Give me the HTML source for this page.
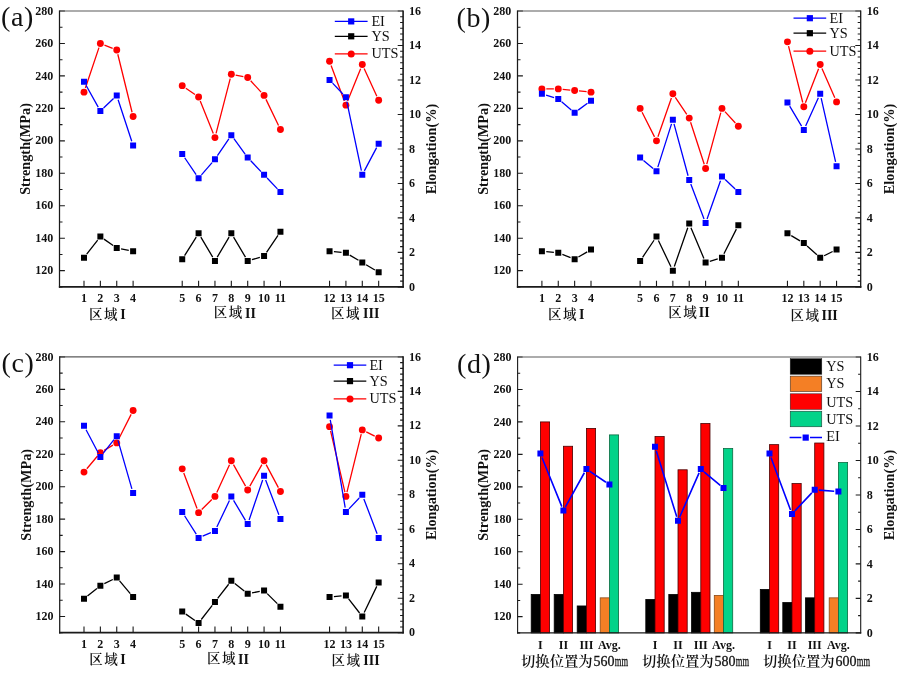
<!DOCTYPE html>
<html lang="zh"><head><meta charset="utf-8"><title>Strength and elongation</title>
<style>
html,body{margin:0;padding:0;background:#fff}
body{width:900px;height:673px;overflow:hidden}
svg{display:block}
text{font-family:"Liberation Serif","Noto Serif CJK SC",serif;fill:#111}
.tk{font-size:12px;font-weight:bold}
.ttl{font-size:14.3px;font-weight:bold}
.lg{font-size:14.3px}
.tag{font-size:28px;letter-spacing:0.6px}
.cj{font-size:13.5px;letter-spacing:1.5px;font-weight:600}
.rom{font-weight:bold;font-size:14px}
.cjb{font-size:13.4px;font-weight:600}
.num{font-size:14.6px;stroke:#111;stroke-width:0.3px}
</style></head><body>
<svg width="900" height="673" viewBox="0 0 900 673">
<rect width="900" height="673" fill="#fff"/>
<g>
<path d="M59.5 286.9h3.0M59.5 270.67h5.4M59.5 254.44h3.0M59.5 238.21h5.4M59.5 221.98h3.0M59.5 205.75h5.4M59.5 189.52h3.0M59.5 173.29h5.4M59.5 157.06h3.0M59.5 140.84h5.4M59.5 124.61h3.0M59.5 108.38h5.4M59.5 92.15h3.0M59.5 75.92h5.4M59.5 59.69h3.0M59.5 43.46h5.4M59.5 27.23h3.0M59.5 11h5.4M403.1 11h-5.4M403.1 16.75h-3.0M403.1 22.5h-3.0M403.1 28.24h-3.0M403.1 33.99h-3.0M403.1 39.74h-3.0M403.1 45.49h-5.4M403.1 51.24h-3.0M403.1 56.98h-3.0M403.1 62.73h-3.0M403.1 68.48h-3.0M403.1 74.23h-3.0M403.1 79.97h-5.4M403.1 85.72h-3.0M403.1 91.47h-3.0M403.1 97.22h-3.0M403.1 102.97h-3.0M403.1 108.71h-3.0M403.1 114.46h-5.4M403.1 120.21h-3.0M403.1 125.96h-3.0M403.1 131.71h-3.0M403.1 137.45h-3.0M403.1 143.2h-3.0M403.1 148.95h-5.4M403.1 154.7h-3.0M403.1 160.45h-3.0M403.1 166.19h-3.0M403.1 171.94h-3.0M403.1 177.69h-3.0M403.1 183.44h-5.4M403.1 189.19h-3.0M403.1 194.93h-3.0M403.1 200.68h-3.0M403.1 206.43h-3.0M403.1 212.18h-3.0M403.1 217.92h-5.4M403.1 223.67h-3.0M403.1 229.42h-3.0M403.1 235.17h-3.0M403.1 240.92h-3.0M403.1 246.66h-3.0M403.1 252.41h-5.4M403.1 258.16h-3.0M403.1 263.91h-3.0M403.1 269.66h-3.0M403.1 275.4h-3.0M403.1 281.15h-3.0M403.1 286.9h-5.4" stroke="#1a1a1a" stroke-width="1.1" fill="none"/>
<path d="M59.5 11H403.1" stroke="#5a5a5a" stroke-width="1.2" fill="none"/>
<path d="M59.5 10.4V287.75" stroke="#1a1a1a" stroke-width="1.25" fill="none"/>
<path d="M403.1 10.4V287.75" stroke="#1a1a1a" stroke-width="1.6" fill="none"/>
<path d="M58.88 286.9H403.9" stroke="#1a1a1a" stroke-width="1.7" fill="none"/>
<text x="53.3" y="274.27" text-anchor="end" class="tk">120</text>
<text x="53.3" y="241.81" text-anchor="end" class="tk">140</text>
<text x="53.3" y="209.35" text-anchor="end" class="tk">160</text>
<text x="53.3" y="176.89" text-anchor="end" class="tk">180</text>
<text x="53.3" y="144.44" text-anchor="end" class="tk">200</text>
<text x="53.3" y="111.98" text-anchor="end" class="tk">220</text>
<text x="53.3" y="79.52" text-anchor="end" class="tk">240</text>
<text x="53.3" y="47.06" text-anchor="end" class="tk">260</text>
<text x="53.3" y="14.6" text-anchor="end" class="tk">280</text>
<text x="409.1" y="290.5" class="tk">0</text>
<text x="409.1" y="256.01" class="tk">2</text>
<text x="409.1" y="221.52" class="tk">4</text>
<text x="409.1" y="187.04" class="tk">6</text>
<text x="409.1" y="152.55" class="tk">8</text>
<text x="409.1" y="118.06" class="tk">10</text>
<text x="409.1" y="83.57" class="tk">12</text>
<text x="409.1" y="49.09" class="tk">14</text>
<text x="409.1" y="14.6" class="tk">16</text>
<text transform="translate(30.3 148.95) rotate(-90)" text-anchor="middle" class="ttl">Strength(MPa)</text>
<text transform="translate(436.2 148.95) rotate(-90)" text-anchor="middle" class="ttl">Elongation(%)</text>
<path d="M84 286.9v-6.2M100.37 286.9v-6.2M116.74 286.9v-6.2M133.11 286.9v-6.2M182.22 286.9v-6.2M198.59 286.9v-6.2M214.96 286.9v-6.2M231.33 286.9v-6.2M247.7 286.9v-6.2M264.07 286.9v-6.2M280.44 286.9v-6.2M329.55 286.9v-6.2M345.92 286.9v-6.2M362.29 286.9v-6.2M378.66 286.9v-6.2" stroke="#1a1a1a" stroke-width="1.1" fill="none"/>
<text x="84" y="302.1" text-anchor="middle" class="tk">1</text>
<text x="100.37" y="302.1" text-anchor="middle" class="tk">2</text>
<text x="116.74" y="302.1" text-anchor="middle" class="tk">3</text>
<text x="133.11" y="302.1" text-anchor="middle" class="tk">4</text>
<text x="182.22" y="302.1" text-anchor="middle" class="tk">5</text>
<text x="198.59" y="302.1" text-anchor="middle" class="tk">6</text>
<text x="214.96" y="302.1" text-anchor="middle" class="tk">7</text>
<text x="231.33" y="302.1" text-anchor="middle" class="tk">8</text>
<text x="247.7" y="302.1" text-anchor="middle" class="tk">9</text>
<text x="264.07" y="302.1" text-anchor="middle" class="tk">10</text>
<text x="280.44" y="302.1" text-anchor="middle" class="tk">11</text>
<text x="329.55" y="302.1" text-anchor="middle" class="tk">12</text>
<text x="345.92" y="302.1" text-anchor="middle" class="tk">13</text>
<text x="362.29" y="302.1" text-anchor="middle" class="tk">14</text>
<text x="378.66" y="302.1" text-anchor="middle" class="tk">15</text>
<path d="M86.7 254.21L97.67 240.07M103.98 239.1L113.13 245.44M121.06 248.81L128.79 250.34" stroke="#000" stroke-width="1.3" fill="none"/>
<path d="M184.57 255.59L196.24 237.07M200.84 237.13L212.71 257.15M217.21 257.15L229.08 237.13M233.58 237.13L245.45 257.15M251.92 259.68L259.85 257.32M266.53 252.41L277.98 235.37" stroke="#000" stroke-width="1.3" fill="none"/>
<path d="M333.93 251.63L341.54 252.38M349.7 255.07L358.51 260.31M366.07 264.81L374.88 270.04" stroke="#000" stroke-width="1.3" fill="none"/>
<path d="M81 254.69h6v6h-6zM97.37 233.59h6v6h-6zM113.74 244.95h6v6h-6zM130.11 248.2h6v6h-6zM179.22 256.31h6v6h-6zM195.59 230.34h6v6h-6zM211.96 257.93h6v6h-6zM228.33 230.34h6v6h-6zM244.7 257.93h6v6h-6zM261.07 253.06h6v6h-6zM277.44 228.72h6v6h-6zM326.55 248.2h6v6h-6zM342.92 249.82h6v6h-6zM359.29 259.56h6v6h-6zM375.66 269.29h6v6h-6z" fill="#000"/>
<path d="M85.4 87.98L98.97 47.63M104.46 45.08L112.65 48.33M117.79 54.22L132.06 112.22" stroke="#ff0000" stroke-width="1.3" fill="none"/>
<path d="M185.83 88.16L194.98 94.51M200.24 101.1L213.31 133.51M216.06 133.33L230.23 78.55M235.65 75.15L243.38 76.68M250.67 80.78L261.1 92.15M265.98 99.36L278.53 125.51" stroke="#ff0000" stroke-width="1.3" fill="none"/>
<path d="M331.09 65.43L344.38 101.01M347.57 101.05L360.64 68.64M364.12 68.56L376.83 96.26" stroke="#ff0000" stroke-width="1.3" fill="none"/>
<circle cx="84" cy="92.15" r="3.45" fill="#ff0000"/>
<circle cx="100.37" cy="43.46" r="3.45" fill="#ff0000"/>
<circle cx="116.74" cy="49.95" r="3.45" fill="#ff0000"/>
<circle cx="133.11" cy="116.49" r="3.45" fill="#ff0000"/>
<circle cx="182.22" cy="85.66" r="3.45" fill="#ff0000"/>
<circle cx="198.59" cy="97.02" r="3.45" fill="#ff0000"/>
<circle cx="214.96" cy="137.59" r="3.45" fill="#ff0000"/>
<circle cx="231.33" cy="74.29" r="3.45" fill="#ff0000"/>
<circle cx="247.7" cy="77.54" r="3.45" fill="#ff0000"/>
<circle cx="264.07" cy="95.39" r="3.45" fill="#ff0000"/>
<circle cx="280.44" cy="129.47" r="3.45" fill="#ff0000"/>
<circle cx="329.55" cy="61.31" r="3.45" fill="#ff0000"/>
<circle cx="345.92" cy="105.13" r="3.45" fill="#ff0000"/>
<circle cx="362.29" cy="64.56" r="3.45" fill="#ff0000"/>
<circle cx="378.66" cy="100.26" r="3.45" fill="#ff0000"/>
<path d="M86.15 85.54L98.22 107.17M103.56 107.99L113.55 98.52M118.11 99.68L131.74 141.32" stroke="#0000ff" stroke-width="1.3" fill="none"/>
<path d="M184.69 157.76L196.12 174.62M201.46 174.93L212.09 162.63M217.43 155.65L228.86 138.8M233.92 138.71L245.11 154.02M250.73 160.76L261.04 171.62M267.1 178.01L277.41 188.87" stroke="#0000ff" stroke-width="1.3" fill="none"/>
<path d="M332.58 83.17L342.89 94.03M346.83 101.52L361.38 170.51M364.34 170.92L376.61 147.67" stroke="#0000ff" stroke-width="1.3" fill="none"/>
<path d="M81 78.7h6v6h-6zM97.37 108.01h6v6h-6zM113.74 92.49h6v6h-6zM130.11 142.5h6v6h-6zM179.22 151.12h6v6h-6zM195.59 175.26h6v6h-6zM211.96 156.3h6v6h-6zM228.33 132.15h6v6h-6zM244.7 154.57h6v6h-6zM261.07 171.82h6v6h-6zM277.44 189.06h6v6h-6zM326.55 76.97h6v6h-6zM342.92 94.22h6v6h-6zM359.29 171.82h6v6h-6zM375.66 140.78h6v6h-6z" fill="#0000ff"/>
<path d="M334.8 21.4H367.6" stroke="#0000ff" stroke-width="1.25"/>
<path d="M348.1 18.3h6.2v6.2h-6.2z" fill="#0000ff"/>
<text x="371.4" y="25.9" class="lg">EI</text>
<path d="M334.8 36.3H367.6" stroke="#000" stroke-width="1.25"/>
<path d="M348.1 33.2h6.2v6.2h-6.2z" fill="#000"/>
<text x="371.4" y="40.8" class="lg">YS</text>
<path d="M334.8 53.9H367.6" stroke="#ff0000" stroke-width="1.25"/>
<circle cx="351.2" cy="53.9" r="3.5" fill="#ff0000"/>
<text x="371.4" y="58.4" class="lg">UTS</text>
<text x="89" y="319" class="cj">区域</text>
<text x="125.7" y="319.2" text-anchor="end" class="rom">I</text>
<text x="213.7" y="317.4" class="cj">区域</text>
<text x="255.9" y="317.6" text-anchor="end" class="rom">II</text>
<text x="331" y="318" class="cj">区域</text>
<text x="379.4" y="318.2" text-anchor="end" class="rom">III</text>
<text x="1" y="26.2" class="tag">(a)</text>
</g>
<g>
<path d="M517.5 286.9h3.0M517.5 270.67h5.4M517.5 254.44h3.0M517.5 238.21h5.4M517.5 221.98h3.0M517.5 205.75h5.4M517.5 189.52h3.0M517.5 173.29h5.4M517.5 157.06h3.0M517.5 140.84h5.4M517.5 124.61h3.0M517.5 108.38h5.4M517.5 92.15h3.0M517.5 75.92h5.4M517.5 59.69h3.0M517.5 43.46h5.4M517.5 27.23h3.0M517.5 11h5.4M860.7 11h-5.4M860.7 16.75h-3.0M860.7 22.5h-3.0M860.7 28.24h-3.0M860.7 33.99h-3.0M860.7 39.74h-3.0M860.7 45.49h-5.4M860.7 51.24h-3.0M860.7 56.98h-3.0M860.7 62.73h-3.0M860.7 68.48h-3.0M860.7 74.23h-3.0M860.7 79.97h-5.4M860.7 85.72h-3.0M860.7 91.47h-3.0M860.7 97.22h-3.0M860.7 102.97h-3.0M860.7 108.71h-3.0M860.7 114.46h-5.4M860.7 120.21h-3.0M860.7 125.96h-3.0M860.7 131.71h-3.0M860.7 137.45h-3.0M860.7 143.2h-3.0M860.7 148.95h-5.4M860.7 154.7h-3.0M860.7 160.45h-3.0M860.7 166.19h-3.0M860.7 171.94h-3.0M860.7 177.69h-3.0M860.7 183.44h-5.4M860.7 189.19h-3.0M860.7 194.93h-3.0M860.7 200.68h-3.0M860.7 206.43h-3.0M860.7 212.18h-3.0M860.7 217.92h-5.4M860.7 223.67h-3.0M860.7 229.42h-3.0M860.7 235.17h-3.0M860.7 240.92h-3.0M860.7 246.66h-3.0M860.7 252.41h-5.4M860.7 258.16h-3.0M860.7 263.91h-3.0M860.7 269.66h-3.0M860.7 275.4h-3.0M860.7 281.15h-3.0M860.7 286.9h-5.4" stroke="#1a1a1a" stroke-width="1.1" fill="none"/>
<path d="M517.5 11H860.7" stroke="#5a5a5a" stroke-width="1.2" fill="none"/>
<path d="M517.5 10.4V287.75" stroke="#1a1a1a" stroke-width="1.25" fill="none"/>
<path d="M860.7 10.4V287.75" stroke="#1a1a1a" stroke-width="1.3" fill="none"/>
<path d="M516.88 286.9H861.35" stroke="#1a1a1a" stroke-width="1.7" fill="none"/>
<text x="511.3" y="274.27" text-anchor="end" class="tk">120</text>
<text x="511.3" y="241.81" text-anchor="end" class="tk">140</text>
<text x="511.3" y="209.35" text-anchor="end" class="tk">160</text>
<text x="511.3" y="176.89" text-anchor="end" class="tk">180</text>
<text x="511.3" y="144.44" text-anchor="end" class="tk">200</text>
<text x="511.3" y="111.98" text-anchor="end" class="tk">220</text>
<text x="511.3" y="79.52" text-anchor="end" class="tk">240</text>
<text x="511.3" y="47.06" text-anchor="end" class="tk">260</text>
<text x="511.3" y="14.6" text-anchor="end" class="tk">280</text>
<text x="866.7" y="290.5" class="tk">0</text>
<text x="866.7" y="256.01" class="tk">2</text>
<text x="866.7" y="221.52" class="tk">4</text>
<text x="866.7" y="187.04" class="tk">6</text>
<text x="866.7" y="152.55" class="tk">8</text>
<text x="866.7" y="118.06" class="tk">10</text>
<text x="866.7" y="83.57" class="tk">12</text>
<text x="866.7" y="49.09" class="tk">14</text>
<text x="866.7" y="14.6" class="tk">16</text>
<text transform="translate(488.3 148.95) rotate(-90)" text-anchor="middle" class="ttl">Strength(MPa)</text>
<text transform="translate(893.8 148.95) rotate(-90)" text-anchor="middle" class="ttl">Elongation(%)</text>
<path d="M541.9 286.9v-6.2M558.27 286.9v-6.2M574.64 286.9v-6.2M591.01 286.9v-6.2M640.12 286.9v-6.2M656.49 286.9v-6.2M672.86 286.9v-6.2M689.23 286.9v-6.2M705.6 286.9v-6.2M721.97 286.9v-6.2M738.34 286.9v-6.2M787.45 286.9v-6.2M803.82 286.9v-6.2M820.19 286.9v-6.2M836.56 286.9v-6.2" stroke="#1a1a1a" stroke-width="1.1" fill="none"/>
<text x="541.9" y="302.1" text-anchor="middle" class="tk">1</text>
<text x="558.27" y="302.1" text-anchor="middle" class="tk">2</text>
<text x="574.64" y="302.1" text-anchor="middle" class="tk">3</text>
<text x="591.01" y="302.1" text-anchor="middle" class="tk">4</text>
<text x="640.12" y="302.1" text-anchor="middle" class="tk">5</text>
<text x="656.49" y="302.1" text-anchor="middle" class="tk">6</text>
<text x="672.86" y="302.1" text-anchor="middle" class="tk">7</text>
<text x="689.23" y="302.1" text-anchor="middle" class="tk">8</text>
<text x="705.6" y="302.1" text-anchor="middle" class="tk">9</text>
<text x="721.97" y="302.1" text-anchor="middle" class="tk">10</text>
<text x="738.34" y="302.1" text-anchor="middle" class="tk">11</text>
<text x="787.45" y="302.1" text-anchor="middle" class="tk">12</text>
<text x="803.82" y="302.1" text-anchor="middle" class="tk">13</text>
<text x="820.19" y="302.1" text-anchor="middle" class="tk">14</text>
<text x="836.56" y="302.1" text-anchor="middle" class="tk">15</text>
<path d="M546.28 251.63L553.89 252.38M562.36 254.44L570.55 257.69M578.42 257.06L587.23 251.82" stroke="#000" stroke-width="1.3" fill="none"/>
<path d="M642.58 257.28L654.03 240.24M658.4 240.56L670.95 266.7M674.31 266.51L687.78 227.76M690.93 227.66L703.9 258.5M709.82 261.3L717.75 258.94M723.95 253.76L736.36 229.16" stroke="#000" stroke-width="1.3" fill="none"/>
<path d="M791.23 235.59L800.04 240.83M807.1 246.01L816.91 254.76M824.13 255.73L832.62 251.53" stroke="#000" stroke-width="1.3" fill="none"/>
<path d="M538.9 248.2h6v6h-6zM555.27 249.82h6v6h-6zM571.64 256.31h6v6h-6zM588.01 246.57h6v6h-6zM637.12 257.93h6v6h-6zM653.49 233.59h6v6h-6zM669.86 267.67h6v6h-6zM686.23 220.61h6v6h-6zM702.6 259.56h6v6h-6zM718.97 254.69h6v6h-6zM735.34 222.23h6v6h-6zM784.45 230.34h6v6h-6zM800.82 240.08h6v6h-6zM817.19 254.69h6v6h-6zM833.56 246.57h6v6h-6z" fill="#000"/>
<path d="M546.3 88.9L553.87 88.9M562.65 89.34L570.26 90.09M579.02 90.96L586.63 91.71" stroke="#ff0000" stroke-width="1.3" fill="none"/>
<path d="M642.1 112.31L654.51 136.91M657.94 136.68L671.41 97.93M675.32 97.42L686.77 114.46M690.59 122.3L704.24 164.24M706.76 164.18L720.81 112.62M724.94 111.62L735.37 122.99" stroke="#ff0000" stroke-width="1.3" fill="none"/>
<path d="M788.53 46.1L802.74 102.49M805.41 102.65L818.6 68.66M821.96 68.59L834.79 97.86" stroke="#ff0000" stroke-width="1.3" fill="none"/>
<circle cx="541.9" cy="88.9" r="3.45" fill="#ff0000"/>
<circle cx="558.27" cy="88.9" r="3.45" fill="#ff0000"/>
<circle cx="574.64" cy="90.52" r="3.45" fill="#ff0000"/>
<circle cx="591.01" cy="92.15" r="3.45" fill="#ff0000"/>
<circle cx="640.12" cy="108.38" r="3.45" fill="#ff0000"/>
<circle cx="656.49" cy="140.84" r="3.45" fill="#ff0000"/>
<circle cx="672.86" cy="93.77" r="3.45" fill="#ff0000"/>
<circle cx="689.23" cy="118.11" r="3.45" fill="#ff0000"/>
<circle cx="705.6" cy="168.43" r="3.45" fill="#ff0000"/>
<circle cx="721.97" cy="108.38" r="3.45" fill="#ff0000"/>
<circle cx="738.34" cy="126.23" r="3.45" fill="#ff0000"/>
<circle cx="787.45" cy="41.84" r="3.45" fill="#ff0000"/>
<circle cx="803.82" cy="106.75" r="3.45" fill="#ff0000"/>
<circle cx="820.19" cy="64.56" r="3.45" fill="#ff0000"/>
<circle cx="836.56" cy="101.88" r="3.45" fill="#ff0000"/>
<path d="M546.1 95.1L554.07 97.62M561.63 101.78L571.28 109.9M578.18 110.13L587.47 103.28" stroke="#0000ff" stroke-width="1.3" fill="none"/>
<path d="M643.48 160.41L653.13 168.53M657.82 167.17L671.53 123.83M674.01 123.88L688.08 175.74M690.79 184.1L704.04 218.98M707.06 218.95L720.51 180.69M725.16 179.57L735.15 189.03" stroke="#0000ff" stroke-width="1.3" fill="none"/>
<path d="M789.7 106.18L801.57 126.2M805.63 125.97L818.38 97.78M821.16 98.06L835.59 161.9" stroke="#0000ff" stroke-width="1.3" fill="none"/>
<path d="M538.9 90.77h6v6h-6zM555.27 95.94h6v6h-6zM571.64 109.74h6v6h-6zM588.01 97.67h6v6h-6zM637.12 154.57h6v6h-6zM653.49 168.37h6v6h-6zM669.86 116.64h6v6h-6zM686.23 176.99h6v6h-6zM702.6 220.1h6v6h-6zM718.97 173.54h6v6h-6zM735.34 189.06h6v6h-6zM784.45 99.39h6v6h-6zM800.82 126.98h6v6h-6zM817.19 90.77h6v6h-6zM833.56 163.19h6v6h-6z" fill="#0000ff"/>
<path d="M793.5 18.2H826.2" stroke="#0000ff" stroke-width="1.25"/>
<path d="M806.75 15.1h6.2v6.2h-6.2z" fill="#0000ff"/>
<text x="829.5" y="22.7" class="lg">EI</text>
<path d="M793.5 33.2H826.2" stroke="#000" stroke-width="1.25"/>
<path d="M806.75 30.1h6.2v6.2h-6.2z" fill="#000"/>
<text x="829.5" y="37.7" class="lg">YS</text>
<path d="M793.5 51.2H826.2" stroke="#ff0000" stroke-width="1.25"/>
<circle cx="809.85" cy="51.2" r="3.5" fill="#ff0000"/>
<text x="829.5" y="55.7" class="lg">UTS</text>
<text x="548" y="319.2" class="cj">区域</text>
<text x="584.4" y="319.4" text-anchor="end" class="rom">I</text>
<text x="668.2" y="316.8" class="cj">区域</text>
<text x="709.6" y="317" text-anchor="end" class="rom">II</text>
<text x="790.4" y="320" class="cj">区域</text>
<text x="837.8" y="320.2" text-anchor="end" class="rom">III</text>
<text x="456.5" y="26.8" class="tag">(b)</text>
</g>
<g>
<path d="M59.7 632.7h3.0M59.7 616.48h5.4M59.7 600.25h3.0M59.7 584.03h5.4M59.7 567.81h3.0M59.7 551.58h5.4M59.7 535.36h3.0M59.7 519.14h5.4M59.7 502.91h3.0M59.7 486.69h5.4M59.7 470.46h3.0M59.7 454.24h5.4M59.7 438.02h3.0M59.7 421.79h5.4M59.7 405.57h3.0M59.7 389.35h5.4M59.7 373.12h3.0M59.7 356.9h5.4M403.1 356.9h-5.4M403.1 362.65h-3.0M403.1 368.39h-3.0M403.1 374.14h-3.0M403.1 379.88h-3.0M403.1 385.63h-3.0M403.1 391.38h-5.4M403.1 397.12h-3.0M403.1 402.87h-3.0M403.1 408.61h-3.0M403.1 414.36h-3.0M403.1 420.1h-3.0M403.1 425.85h-5.4M403.1 431.6h-3.0M403.1 437.34h-3.0M403.1 443.09h-3.0M403.1 448.83h-3.0M403.1 454.58h-3.0M403.1 460.32h-5.4M403.1 466.07h-3.0M403.1 471.82h-3.0M403.1 477.56h-3.0M403.1 483.31h-3.0M403.1 489.05h-3.0M403.1 494.8h-5.4M403.1 500.55h-3.0M403.1 506.29h-3.0M403.1 512.04h-3.0M403.1 517.78h-3.0M403.1 523.53h-3.0M403.1 529.27h-5.4M403.1 535.02h-3.0M403.1 540.77h-3.0M403.1 546.51h-3.0M403.1 552.26h-3.0M403.1 558h-3.0M403.1 563.75h-5.4M403.1 569.5h-3.0M403.1 575.24h-3.0M403.1 580.99h-3.0M403.1 586.73h-3.0M403.1 592.48h-3.0M403.1 598.23h-5.4M403.1 603.97h-3.0M403.1 609.72h-3.0M403.1 615.46h-3.0M403.1 621.21h-3.0M403.1 626.95h-3.0M403.1 632.7h-5.4" stroke="#1a1a1a" stroke-width="1.1" fill="none"/>
<path d="M59.7 356.9H403.1" stroke="#5a5a5a" stroke-width="1.2" fill="none"/>
<path d="M59.7 356.3V633.55" stroke="#1a1a1a" stroke-width="1.25" fill="none"/>
<path d="M403.1 356.3V633.55" stroke="#1a1a1a" stroke-width="1.6" fill="none"/>
<path d="M59.08 632.7H403.9" stroke="#1a1a1a" stroke-width="1.7" fill="none"/>
<text x="53.5" y="620.08" text-anchor="end" class="tk">120</text>
<text x="53.5" y="587.63" text-anchor="end" class="tk">140</text>
<text x="53.5" y="555.18" text-anchor="end" class="tk">160</text>
<text x="53.5" y="522.74" text-anchor="end" class="tk">180</text>
<text x="53.5" y="490.29" text-anchor="end" class="tk">200</text>
<text x="53.5" y="457.84" text-anchor="end" class="tk">220</text>
<text x="53.5" y="425.39" text-anchor="end" class="tk">240</text>
<text x="53.5" y="392.95" text-anchor="end" class="tk">260</text>
<text x="53.5" y="360.5" text-anchor="end" class="tk">280</text>
<text x="409.1" y="636.3" class="tk">0</text>
<text x="409.1" y="601.83" class="tk">2</text>
<text x="409.1" y="567.35" class="tk">4</text>
<text x="409.1" y="532.88" class="tk">6</text>
<text x="409.1" y="498.4" class="tk">8</text>
<text x="409.1" y="463.93" class="tk">10</text>
<text x="409.1" y="429.45" class="tk">12</text>
<text x="409.1" y="394.98" class="tk">14</text>
<text x="409.1" y="360.5" class="tk">16</text>
<text transform="translate(30.5 494.8) rotate(-90)" text-anchor="middle" class="ttl">Strength(MPa)</text>
<text transform="translate(436.2 494.8) rotate(-90)" text-anchor="middle" class="ttl">Elongation(%)</text>
<path d="M84 632.7v-6.2M100.37 632.7v-6.2M116.74 632.7v-6.2M133.11 632.7v-6.2M182.22 632.7v-6.2M198.59 632.7v-6.2M214.96 632.7v-6.2M231.33 632.7v-6.2M247.7 632.7v-6.2M264.07 632.7v-6.2M280.44 632.7v-6.2M329.55 632.7v-6.2M345.92 632.7v-6.2M362.29 632.7v-6.2M378.66 632.7v-6.2" stroke="#1a1a1a" stroke-width="1.1" fill="none"/>
<text x="84" y="647.9" text-anchor="middle" class="tk">1</text>
<text x="100.37" y="647.9" text-anchor="middle" class="tk">2</text>
<text x="116.74" y="647.9" text-anchor="middle" class="tk">3</text>
<text x="133.11" y="647.9" text-anchor="middle" class="tk">4</text>
<text x="182.22" y="647.9" text-anchor="middle" class="tk">5</text>
<text x="198.59" y="647.9" text-anchor="middle" class="tk">6</text>
<text x="214.96" y="647.9" text-anchor="middle" class="tk">7</text>
<text x="231.33" y="647.9" text-anchor="middle" class="tk">8</text>
<text x="247.7" y="647.9" text-anchor="middle" class="tk">9</text>
<text x="264.07" y="647.9" text-anchor="middle" class="tk">10</text>
<text x="280.44" y="647.9" text-anchor="middle" class="tk">11</text>
<text x="329.55" y="647.9" text-anchor="middle" class="tk">12</text>
<text x="345.92" y="647.9" text-anchor="middle" class="tk">13</text>
<text x="362.29" y="647.9" text-anchor="middle" class="tk">14</text>
<text x="378.66" y="647.9" text-anchor="middle" class="tk">15</text>
<path d="M87.45 595.9L96.92 588.39M104.31 583.7L112.8 579.49M119.57 580.91L130.28 593.64" stroke="#000" stroke-width="1.3" fill="none"/>
<path d="M185.84 614.12L194.97 620.46M201.29 619.49L212.26 605.35M217.66 598.4L228.63 584.26M234.78 583.52L244.25 591.03M252.02 592.91L259.75 591.37M267.2 593.62L277.31 603.65" stroke="#000" stroke-width="1.3" fill="none"/>
<path d="M333.93 596.57L341.54 595.82M348.62 598.86L359.59 613M364.2 612.51L376.75 586.37" stroke="#000" stroke-width="1.3" fill="none"/>
<path d="M81 595.63h6v6h-6zM97.37 582.65h6v6h-6zM113.74 574.54h6v6h-6zM130.11 594.01h6v6h-6zM179.22 608.61h6v6h-6zM195.59 619.97h6v6h-6zM211.96 598.88h6v6h-6zM228.33 577.78h6v6h-6zM244.7 590.76h6v6h-6zM261.07 587.52h6v6h-6zM277.44 603.74h6v6h-6zM326.55 594.01h6v6h-6zM342.92 592.39h6v6h-6zM359.29 613.48h6v6h-6zM375.66 579.41h6v6h-6z" fill="#000"/>
<path d="M86.83 468.72L97.54 455.99M104.15 450.37L112.96 445.13M118.72 438.96L131.13 414.37" stroke="#ff0000" stroke-width="1.3" fill="none"/>
<path d="M183.76 472.96L197.05 508.52M201.72 509.55L211.83 499.52M216.79 492.42L229.5 464.73M233.48 464.57L245.55 486.09M249.85 486.09L261.92 464.57M266.13 464.62L278.38 487.67" stroke="#ff0000" stroke-width="1.3" fill="none"/>
<path d="M330.56 430.94L344.91 492.14M346.97 492.15L361.24 434.18M366.23 431.86L374.72 436.06" stroke="#ff0000" stroke-width="1.3" fill="none"/>
<circle cx="84" cy="472.09" r="3.45" fill="#ff0000"/>
<circle cx="100.37" cy="452.62" r="3.45" fill="#ff0000"/>
<circle cx="116.74" cy="442.88" r="3.45" fill="#ff0000"/>
<circle cx="133.11" cy="410.44" r="3.45" fill="#ff0000"/>
<circle cx="182.22" cy="468.84" r="3.45" fill="#ff0000"/>
<circle cx="198.59" cy="512.65" r="3.45" fill="#ff0000"/>
<circle cx="214.96" cy="496.42" r="3.45" fill="#ff0000"/>
<circle cx="231.33" cy="460.73" r="3.45" fill="#ff0000"/>
<circle cx="247.7" cy="489.93" r="3.45" fill="#ff0000"/>
<circle cx="264.07" cy="460.73" r="3.45" fill="#ff0000"/>
<circle cx="280.44" cy="491.56" r="3.45" fill="#ff0000"/>
<circle cx="329.55" cy="426.66" r="3.45" fill="#ff0000"/>
<circle cx="345.92" cy="496.42" r="3.45" fill="#ff0000"/>
<circle cx="362.29" cy="429.91" r="3.45" fill="#ff0000"/>
<circle cx="378.66" cy="438.02" r="3.45" fill="#ff0000"/>
<path d="M86.05 429.74L98.32 452.99M103.1 453.43L114.01 439.64M117.96 440.42L131.89 488.85" stroke="#0000ff" stroke-width="1.3" fill="none"/>
<path d="M184.57 515.76L196.24 534.18M202.64 536.19L210.91 532.71M216.85 527.02L229.44 500.5M233.58 500.31L245.45 520.32M249.11 519.94L262.66 480.01M265.63 479.95L278.88 514.82" stroke="#0000ff" stroke-width="1.3" fill="none"/>
<path d="M330.29 419.85L345.18 507.7M348.95 508.85L359.26 497.99M363.85 498.91L377.1 533.78" stroke="#0000ff" stroke-width="1.3" fill="none"/>
<path d="M81 422.85h6v6h-6zM97.37 453.88h6v6h-6zM113.74 433.19h6v6h-6zM130.11 490.08h6v6h-6zM179.22 509.04h6v6h-6zM195.59 534.89h6v6h-6zM211.96 528h6v6h-6zM228.33 493.52h6v6h-6zM244.7 521.1h6v6h-6zM261.07 472.84h6v6h-6zM277.44 515.93h6v6h-6zM326.55 412.51h6v6h-6zM342.92 509.04h6v6h-6zM359.29 491.8h6v6h-6zM375.66 534.89h6v6h-6z" fill="#0000ff"/>
<path d="M333.7 365.2H366.3" stroke="#0000ff" stroke-width="1.25"/>
<path d="M346.9 362.1h6.2v6.2h-6.2z" fill="#0000ff"/>
<text x="369.4" y="369.7" class="lg">EI</text>
<path d="M333.7 381.1H366.3" stroke="#000" stroke-width="1.25"/>
<path d="M346.9 378h6.2v6.2h-6.2z" fill="#000"/>
<text x="369.4" y="385.6" class="lg">YS</text>
<path d="M333.7 398.9H366.3" stroke="#ff0000" stroke-width="1.25"/>
<circle cx="350" cy="398.9" r="3.5" fill="#ff0000"/>
<text x="369.4" y="403.4" class="lg">UTS</text>
<text x="89.3" y="663.8" class="cj">区域</text>
<text x="125.7" y="664" text-anchor="end" class="rom">I</text>
<text x="207" y="663.3" class="cj">区域</text>
<text x="249" y="663.5" text-anchor="end" class="rom">II</text>
<text x="331.5" y="665.1" class="cj">区域</text>
<text x="379.7" y="665.3" text-anchor="end" class="rom">III</text>
<text x="1.5" y="372.4" class="tag">(c)</text>
</g>
<g>
<rect x="531.2" y="594.44" width="9.2" height="38.46" fill="#000" stroke="#000" stroke-width="0.8"/>
<rect x="540.4" y="421.92" width="9.2" height="210.98" fill="#ff0000" stroke="#4a0000" stroke-width="0.8"/>
<rect x="554.2" y="594.44" width="9.2" height="38.46" fill="#000" stroke="#000" stroke-width="0.8"/>
<rect x="563.4" y="446.26" width="9.2" height="186.64" fill="#ff0000" stroke="#4a0000" stroke-width="0.8"/>
<rect x="577.2" y="605.96" width="9.2" height="26.94" fill="#000" stroke="#000" stroke-width="0.8"/>
<rect x="586.4" y="428.41" width="9.2" height="204.49" fill="#ff0000" stroke="#4a0000" stroke-width="0.8"/>
<rect x="600.2" y="597.84" width="9.2" height="35.06" fill="#f47f25" stroke="#8a4a18" stroke-width="0.8"/>
<rect x="609.4" y="434.9" width="9.2" height="198" fill="#02d389" stroke="#0a6a40" stroke-width="0.8"/>
<rect x="645.8" y="599.47" width="9.2" height="33.43" fill="#000" stroke="#000" stroke-width="0.8"/>
<rect x="655" y="436.52" width="9.2" height="196.38" fill="#ff0000" stroke="#4a0000" stroke-width="0.8"/>
<rect x="668.8" y="594.44" width="9.2" height="38.46" fill="#000" stroke="#000" stroke-width="0.8"/>
<rect x="678" y="469.79" width="9.2" height="163.11" fill="#ff0000" stroke="#4a0000" stroke-width="0.8"/>
<rect x="691.6" y="592.33" width="9.2" height="40.57" fill="#000" stroke="#000" stroke-width="0.8"/>
<rect x="700.8" y="423.54" width="9.2" height="209.36" fill="#ff0000" stroke="#4a0000" stroke-width="0.8"/>
<rect x="714.3" y="595.41" width="9.2" height="37.49" fill="#f47f25" stroke="#8a4a18" stroke-width="0.8"/>
<rect x="723.5" y="448.53" width="9.2" height="184.37" fill="#02d389" stroke="#0a6a40" stroke-width="0.8"/>
<rect x="760.3" y="589.41" width="9.2" height="43.49" fill="#000" stroke="#000" stroke-width="0.8"/>
<rect x="769.5" y="444.64" width="9.2" height="188.26" fill="#ff0000" stroke="#4a0000" stroke-width="0.8"/>
<rect x="782.8" y="602.55" width="9.2" height="30.35" fill="#000" stroke="#000" stroke-width="0.8"/>
<rect x="792" y="483.59" width="9.2" height="149.31" fill="#ff0000" stroke="#4a0000" stroke-width="0.8"/>
<rect x="805.5" y="597.84" width="9.2" height="35.06" fill="#000" stroke="#000" stroke-width="0.8"/>
<rect x="814.7" y="443.02" width="9.2" height="189.88" fill="#ff0000" stroke="#4a0000" stroke-width="0.8"/>
<rect x="829.2" y="597.84" width="9.2" height="35.06" fill="#f47f25" stroke="#8a4a18" stroke-width="0.8"/>
<rect x="838.4" y="462.49" width="9.2" height="170.41" fill="#02d389" stroke="#0a6a40" stroke-width="0.8"/>
<path d="M517.6 632.9h2.6M517.6 616.67h5.0M517.6 600.44h2.6M517.6 584.21h5.0M517.6 567.98h2.6M517.6 551.75h5.0M517.6 535.52h2.6M517.6 519.29h5.0M517.6 503.06h2.6M517.6 486.84h5.0M517.6 470.61h2.6M517.6 454.38h5.0M517.6 438.15h2.6M517.6 421.92h5.0M517.6 405.69h2.6M517.6 389.46h5.0M517.6 373.23h2.6M517.6 357h5.0M860.7 357h-5.0M860.7 374.24h-2.6M860.7 391.49h-5.0M860.7 408.73h-2.6M860.7 425.98h-5.0M860.7 443.22h-2.6M860.7 460.46h-5.0M860.7 477.71h-2.6M860.7 494.95h-5.0M860.7 512.19h-2.6M860.7 529.44h-5.0M860.7 546.68h-2.6M860.7 563.92h-5.0M860.7 581.17h-2.6M860.7 598.41h-5.0M860.7 615.66h-2.6M860.7 632.9h-5.0" stroke="#1a1a1a" stroke-width="1.1" fill="none"/>
<path d="M517.6 357H860.7" stroke="#5a5a5a" stroke-width="1.2" fill="none"/>
<path d="M517.6 356.4V633.5" stroke="#1a1a1a" stroke-width="1.1" fill="none"/>
<path d="M860.7 356.4V633.5" stroke="#1a1a1a" stroke-width="1.1" fill="none"/>
<path d="M517.05 632.9H861.25" stroke="#1a1a1a" stroke-width="1.2" fill="none"/>
<text x="511.4" y="620.27" text-anchor="end" class="tk">120</text>
<text x="511.4" y="587.81" text-anchor="end" class="tk">140</text>
<text x="511.4" y="555.35" text-anchor="end" class="tk">160</text>
<text x="511.4" y="522.89" text-anchor="end" class="tk">180</text>
<text x="511.4" y="490.44" text-anchor="end" class="tk">200</text>
<text x="511.4" y="457.98" text-anchor="end" class="tk">220</text>
<text x="511.4" y="425.52" text-anchor="end" class="tk">240</text>
<text x="511.4" y="393.06" text-anchor="end" class="tk">260</text>
<text x="511.4" y="360.6" text-anchor="end" class="tk">280</text>
<text x="866.7" y="636.5" class="tk">0</text>
<text x="866.7" y="602.01" class="tk">2</text>
<text x="866.7" y="567.52" class="tk">4</text>
<text x="866.7" y="533.04" class="tk">6</text>
<text x="866.7" y="498.55" class="tk">8</text>
<text x="866.7" y="464.06" class="tk">10</text>
<text x="866.7" y="429.58" class="tk">12</text>
<text x="866.7" y="395.09" class="tk">14</text>
<text x="866.7" y="360.6" class="tk">16</text>
<text transform="translate(488.4 494.95) rotate(-90)" text-anchor="middle" class="ttl">Strength(MPa)</text>
<text transform="translate(893.8 494.95) rotate(-90)" text-anchor="middle" class="ttl">Elongation(%)</text>
<text x="540.4" y="648.5" text-anchor="middle" class="tk">I</text>
<text x="563.4" y="648.5" text-anchor="middle" class="tk">II</text>
<text x="586.4" y="648.5" text-anchor="middle" class="tk">III</text>
<text x="609.4" y="648.5" text-anchor="middle" class="tk">Avg.</text>
<text x="655" y="648.5" text-anchor="middle" class="tk">I</text>
<text x="678" y="648.5" text-anchor="middle" class="tk">II</text>
<text x="700.8" y="648.5" text-anchor="middle" class="tk">III</text>
<text x="723.5" y="648.5" text-anchor="middle" class="tk">Avg.</text>
<text x="769.5" y="648.5" text-anchor="middle" class="tk">I</text>
<text x="792" y="648.5" text-anchor="middle" class="tk">II</text>
<text x="814.7" y="648.5" text-anchor="middle" class="tk">III</text>
<text x="838.4" y="648.5" text-anchor="middle" class="tk">Avg.</text>
<path d="M541.97 457.46L561.83 506.58M565.44 506.8L584.36 472.76M589.88 471.43L605.92 482.25" stroke="#0000ff" stroke-width="1.6" fill="none"/>
<path d="M656.24 450.68L676.76 516.8M679.69 516.97L699.11 472.93M704.02 471.78L720.28 485.36" stroke="#0000ff" stroke-width="1.6" fill="none"/>
<path d="M770.97 457.5L790.53 509.98M794.88 510.86L811.82 492.84M818.89 490.08L834.21 491.2" stroke="#0000ff" stroke-width="1.6" fill="none"/>
<path d="M537.4 450.56h6v6h-6zM560.4 507.47h6v6h-6zM583.4 466.08h6v6h-6zM606.4 481.6h6v6h-6zM652 443.67h6v6h-6zM675 517.82h6v6h-6zM697.8 466.08h6v6h-6zM720.5 485.05h6v6h-6zM766.5 450.56h6v6h-6zM789 510.92h6v6h-6zM811.7 486.78h6v6h-6zM835.4 488.5h6v6h-6z" fill="#0000ff"/>
<rect x="790.2" y="358.7" width="31.6" height="15.6" fill="#000" stroke="#222" stroke-width="0.5"/>
<text x="826.3" y="371" class="lg">YS</text>
<rect x="790.2" y="376.1" width="31.6" height="15.6" fill="#f47f25" stroke="#222" stroke-width="0.5"/>
<text x="826.3" y="388.2" class="lg">YS</text>
<rect x="790.2" y="393.8" width="31.6" height="15.6" fill="#ff0000" stroke="#222" stroke-width="0.5"/>
<text x="826.3" y="406.5" class="lg">UTS</text>
<rect x="790.2" y="411.2" width="31.6" height="15.6" fill="#02d389" stroke="#222" stroke-width="0.5"/>
<text x="826.3" y="423.9" class="lg">UTS</text>
<path d="M789.6 437.6H801.4M810 437.6H822" stroke="#0000ff" stroke-width="1.5"/>
<path d="M802.6 434.5h6.2v6.2h-6.2z" fill="#0000ff"/>
<text x="826.3" y="441.3" class="lg">EI</text>
<text x="521" y="665.6" class="cjb" textLength="71.6" lengthAdjust="spacingAndGlyphs">切换位置为</text>
<text x="593.4" y="665.8" class="num" textLength="21" lengthAdjust="spacingAndGlyphs">560</text>
<text x="614.8" y="665.8" class="num" textLength="13.2" lengthAdjust="spacingAndGlyphs">mm</text>
<text x="642" y="665.6" class="cjb" textLength="71.6" lengthAdjust="spacingAndGlyphs">切换位置为</text>
<text x="714.4" y="665.8" class="num" textLength="21" lengthAdjust="spacingAndGlyphs">580</text>
<text x="735.8" y="665.8" class="num" textLength="13.2" lengthAdjust="spacingAndGlyphs">mm</text>
<text x="763" y="665.6" class="cjb" textLength="71.6" lengthAdjust="spacingAndGlyphs">切换位置为</text>
<text x="835.4" y="665.8" class="num" textLength="21" lengthAdjust="spacingAndGlyphs">600</text>
<text x="856.8" y="665.8" class="num" textLength="13.2" lengthAdjust="spacingAndGlyphs">mm</text>
<text x="457" y="373.0" class="tag">(d)</text>
</g>
</svg>
</body></html>
